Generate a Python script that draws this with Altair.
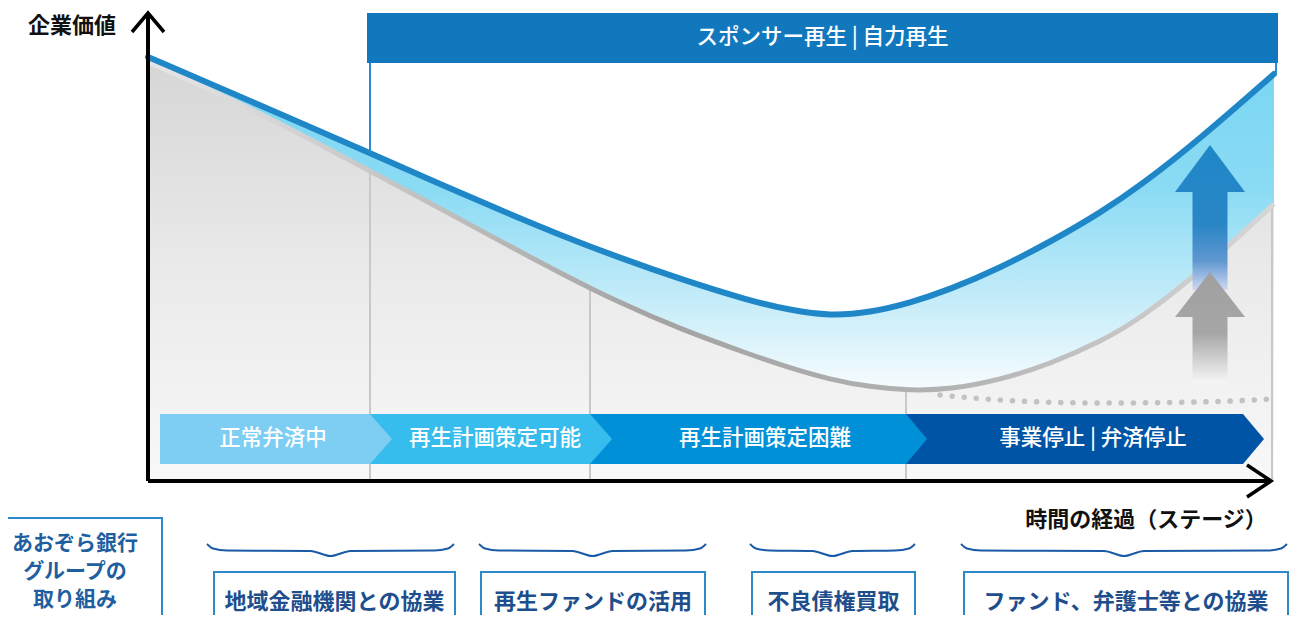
import altair as alt
import pandas as pd

# ---------------- canvas / scales ----------------
W, H = 1285, 607
X_MIN, Y_MAX = -14.0, 94.6
xs = alt.Scale(domain=[X_MIN, X_MIN + W / 10], nice=False, zero=False)
ys = alt.Scale(domain=[Y_MAX - H / 5, Y_MAX], nice=False, zero=False)
FONT = "Noto Sans CJK JP"

# ---------------- data ----------------
# value curves (time -> enterprise value)
curve_t = [0, 10.2, 22.2, 29.2, 35.2, 41.2, 47.2, 53.2, 60.2, 64.2, 68.2, 72.2,
           76.2, 80.2, 85.2, 90.2, 95.2, 99.2, 105.2, 112.6]
value_blue = [84.8, 76.0, 65.6, 59.4, 54.2, 49.2, 44.6, 40.4, 36.0, 34.2, 33.0, 33.7,
              35.6, 38.3, 42.6, 47.8, 53.6, 59.0, 68.4, 81.4]
value_gray = [83.8, 74.8, 62.0, 54.5, 48.0, 41.6, 35.6, 30.4, 25.3, 22.6, 20.3, 18.8,
              18.1, 18.3, 20.2, 23.4, 27.8, 32.4, 41.8, 55.4]

# dotted (no-intervention) line
dot_t = [79.2, 85.2, 95.2, 105.2, 112.4]
dot_v = [17.2, 16.2, 15.6, 15.8, 16.4]

# stage boundaries
bound_t = [22.2, 44.2, 75.8, 112.4]
bound_top = [62.0, 38.5, 18.1, 55.0]

# stage chevrons
stage_names = ["正常弁済中", "再生計画策定可能", "再生計画策定困難", "事業停止 | 弁済停止"]
stage_start = [1.2, 22.2, 44.2, 75.8]
stage_base = [22.2, 44.2, 75.8, 109.5]
stage_tip = [24.4, 46.4, 77.9, 111.6]
stage_label_t = [12.5, 34.7, 61.7, 94.5]
stage_colors = ["#7ecdf3", "#37bcee", "#0090d8", "#0054a5"]
band_top, band_bottom = 13.4, 3.4

# banner
banner_text = "スポンサー再生 | 自力再生"
banner_t = [21.9, 113.0]
banner_v = [83.6, 93.6]
banner_link_t = [22.2, 112.8]
banner_link_bottom = [65.6, 81.4]

# arrows
arrow_names = ["blue", "gray"]
arrow_tip = [67.2, 41.8]
arrow_head = [57.8, 32.8]
arrow_tail = [38.2, 19.6]
arrow_center = 106.2
arrow_head_half = 3.5
arrow_shaft_half = 1.75

# axes
y_axis_top = 93.6
x_axis_end = 112.3

# bottom groups
brace_left = [5.9, 33.1, 60.2, 81.3]
brace_right = [30.6, 55.8, 76.7, 113.9]
box_left = [6.6, 33.3, 60.4, 81.6]
box_right = [30.7, 55.7, 76.7, 114.0]
box_labels = ["地域金融機関との協業", "再生ファンドの活用", "不良債権買取", "ファンド、弁護士等との協業"]
box_top = -18.2
group_lines = ["あおぞら銀行", "グループの", "取り組み"]
group_line_v = [-12.6, -18.2, -23.8]

# ---------------- helpers ----------------
def X(f, **kw):
    return alt.X(f, scale=xs, axis=None, **kw)

def Y(f, **kw):
    return alt.Y(f, scale=ys, axis=None, **kw)

def vgrad(stops):
    return alt.Gradient(gradient="linear", x1=0, y1=0, x2=0, y2=1,
                        stops=[alt.GradientStop(color=c, offset=o) for o, c in stops])

def hgrad(stops):
    return alt.Gradient(gradient="linear", x1=0, y1=0, x2=1, y2=0,
                        stops=[alt.GradientStop(color=c, offset=o) for o, c in stops])

CURVE = "basis"
layers = []

curve_df = pd.DataFrame({"t": curve_t, "blue": value_blue, "gray": value_gray})

# gray area under the gray curve
layers.append(alt.Chart(curve_df).mark_area(
    interpolate=CURVE,
    color=vgrad([(0, "#d6d6d6"), (0.5, "#eaeaea"), (1, "#f8f8f8")])
).encode(x=X("t:Q"), y=Y("gray:Q"), y2=alt.datum(0)))

# blue band between curves
layers.append(alt.Chart(curve_df).mark_area(
    interpolate=CURVE,
    color=vgrad([(0, "#78d6f3"), (0.4, "#8bdbf4"), (0.73, "#c4ecf9"), (1, "#f7fcfe")])
).encode(x=X("t:Q"), y=Y("blue:Q"), y2="gray:Q"))

# stage boundary lines
bound_df = pd.DataFrame({"t": bound_t, "top": bound_top})
layers.append(alt.Chart(bound_df).mark_rule(color="#c8c8c8", strokeWidth=2).encode(
    x=X("t:Q"), y=Y("top:Q"), y2=alt.datum(0)))

# gray curve
layers.append(alt.Chart(curve_df).mark_line(
    interpolate=CURVE, strokeWidth=5,
    stroke=hgrad([(0, "#e6e6e6"), (0.25, "#c0c0c0"), (0.45, "#a3a3a3"), (0.7, "#b2b2b2"), (1, "#d6d6d6")])
).encode(x=X("t:Q"), y=Y("gray:Q")))

# blue curve
layers.append(alt.Chart(curve_df).mark_line(
    interpolate=CURVE, strokeWidth=6, color="#1f87c7", strokeCap="round"
).encode(x=X("t:Q"), y=Y("blue:Q")))

# dotted line
dot_df = pd.DataFrame({"t": dot_t, "v": dot_v})
layers.append(alt.Chart(dot_df).mark_line(
    interpolate="monotone", strokeWidth=5.5, color="#c2c2c2",
    strokeDash=[0.1, 12], strokeCap="round"
).encode(x=X("t:Q"), y=Y("v:Q")))

# arrows
arrow_grads = [
    vgrad([(0, "#1f87c7"), (0.55, "#2a86c6"), (0.8, "#5f98d0"), (1, "#d0d8f3")]),
    vgrad([(0, "#a0a0a0"), (0.55, "#a6a6a6"), (1, "#f6f6f6")]),
]
for i, name in enumerate(arrow_names):
    adf = pd.DataFrame({
        "v": [arrow_tail[i], arrow_head[i], arrow_head[i] + 0.01, arrow_tip[i]],
        "l": [arrow_center - arrow_shaft_half, arrow_center - arrow_shaft_half,
              arrow_center - arrow_head_half, arrow_center],
        "r": [arrow_center + arrow_shaft_half, arrow_center + arrow_shaft_half,
              arrow_center + arrow_head_half, arrow_center],
    })
    layers.append(alt.Chart(adf).mark_area(orient="horizontal", color=arrow_grads[i]).encode(
        y=Y("v:Q"), x=X("l:Q"), x2="r:Q"))

# banner
banner_df = pd.DataFrame({"x": [banner_t[0]], "x2": [banner_t[1]], "y": [banner_v[0]], "y2": [banner_v[1]]})
layers.append(alt.Chart(banner_df).mark_rect(color="#1278be").encode(
    x=X("x:Q"), x2="x2:Q", y=Y("y:Q"), y2="y2:Q"))
link_df = pd.DataFrame({"t": banner_link_t, "b": banner_link_bottom, "top": [banner_v[0]] * 2})
layers.append(alt.Chart(link_df).mark_rule(color="#2a8ad0", strokeWidth=2).encode(
    x=X("t:Q"), y=Y("top:Q"), y2="b:Q"))
layers.append(alt.Chart(pd.DataFrame({"label": [banner_text],
                                      "t": [(banner_t[0] + banner_t[1]) / 2],
                                      "v": [(banner_v[0] + banner_v[1]) / 2]})).mark_text(
    font=FONT, fontSize=21.5, color="white", baseline="middle", align="center", fontWeight=500
).encode(x=X("t:Q"), y=Y("v:Q"), text="label:N"))

# chevrons (drawn last-to-first so each tip overlaps the next stage)
band_mid = (band_top + band_bottom) / 2
for i in reversed(range(len(stage_names))):
    cdf = pd.DataFrame({
        "x": [stage_start[i], stage_base[i], stage_tip[i]],
        "top": [band_top, band_top, band_mid],
        "bot": [band_bottom, band_bottom, band_mid],
    })
    layers.append(alt.Chart(cdf).mark_area(color=stage_colors[i]).encode(
        x=X("x:Q"), y=Y("top:Q"), y2="bot:Q"))
stage_df = pd.DataFrame({"label": stage_names, "t": stage_label_t, "v": [band_mid] * 4})
layers.append(alt.Chart(stage_df).mark_text(
    font=FONT, fontSize=21.5, color="white", baseline="middle", align="center", fontWeight=500
).encode(x=X("t:Q"), y=Y("v:Q"), text="label:N"))

# axes
layers.append(alt.Chart(pd.DataFrame({"t": [0], "a": [0], "b": [y_axis_top]})).mark_rule(
    color="black", strokeWidth=4).encode(x=X("t:Q"), y=Y("a:Q"), y2="b:Q"))
layers.append(alt.Chart(pd.DataFrame({"v": [0], "a": [0], "b": [x_axis_end]})).mark_rule(
    color="black", strokeWidth=4).encode(y=Y("v:Q"), x=X("a:Q"), x2="b:Q"))
yhead = pd.DataFrame({"i": [0, 1, 2], "t": [-1.6, 0, 1.6], "v": [89.8, y_axis_top, 89.8]})
layers.append(alt.Chart(yhead).mark_line(color="black", strokeWidth=3.5, strokeJoin="miter").encode(
    x=X("t:Q"), y=Y("v:Q"), order="i:Q"))
xhead = pd.DataFrame({"i": [0, 1, 2], "t": [109.9, x_axis_end, 109.9], "v": [3.2, 0, -3.2]})
layers.append(alt.Chart(xhead).mark_line(color="black", strokeWidth=3.5, strokeJoin="miter").encode(
    x=X("t:Q"), y=Y("v:Q"), order="i:Q"))

axis_lab = pd.DataFrame({"label": ["企業価値", "時間の経過（ステージ）"], "t": [-7.6, 99.8], "v": [91.0, -7.8]})
layers.append(alt.Chart(axis_lab).mark_text(
    font=FONT, fontSize=22, fontWeight="bold", color="#111111", baseline="middle", align="center"
).encode(x=X("t:Q"), y=Y("v:Q"), text="label:N"))

# braces
brace_rows = []
for i, (a, b) in enumerate(zip(brace_left, brace_right)):
    c = (a + b) / 2
    xs_ = [a, a + 0.6, a + 2.0, c - 2.0, c, c + 2.0, b - 2.0, b - 0.6, b]
    vs_ = [-12.6, -13.5, -13.9, -14.0, -15.0, -14.0, -13.9, -13.5, -12.6]
    for k, (x_, v_) in enumerate(zip(xs_, vs_)):
        brace_rows.append({"g": i, "k": k, "t": x_, "v": v_})
layers.append(alt.Chart(pd.DataFrame(brace_rows)).mark_line(
    color="#1a5aa6", strokeWidth=2, interpolate="monotone"
).encode(x=X("t:Q"), y=Y("v:Q"), detail="g:N", order="k:Q"))

# boxes
box_df = pd.DataFrame({"l": box_left, "r": box_right, "top": [box_top] * 4, "bot": [-40] * 4,
                       "label": box_labels, "c": [(a + b) / 2 for a, b in zip(box_left, box_right)],
                       "tv": [-24.2] * 4})
layers.append(alt.Chart(box_df).mark_rect(fillOpacity=0, stroke="#2f88c8", strokeWidth=2).encode(
    x=X("l:Q"), x2="r:Q", y=Y("top:Q"), y2="bot:Q"))
layers.append(alt.Chart(box_df).mark_text(
    font=FONT, fontSize=22, fontWeight="bold", color="#1e4e8c", baseline="middle", align="center"
).encode(x=X("c:Q"), y=Y("tv:Q"), text="label:N"))

group_box = pd.DataFrame({"l": [-16], "r": [1.4], "top": [-7.4], "bot": [-40]})
layers.append(alt.Chart(group_box).mark_rect(fillOpacity=0, stroke="#2f88c8", strokeWidth=2).encode(
    x=X("l:Q"), x2="r:Q", y=Y("top:Q"), y2="bot:Q"))
group_df = pd.DataFrame({"label": group_lines, "t": [-7.3] * 3, "v": group_line_v})
layers.append(alt.Chart(group_df).mark_text(
    font=FONT, fontSize=21, fontWeight="bold", color="#1f5fa0", baseline="middle", align="center"
).encode(x=X("t:Q"), y=Y("v:Q"), text="label:N"))

chart = alt.layer(*layers).properties(
    width=W, height=H, padding=0, autosize="none", background="white"
).configure_view(stroke=None)

chart.save("out.html", embed_options={"renderer": "svg", "actions": False})
